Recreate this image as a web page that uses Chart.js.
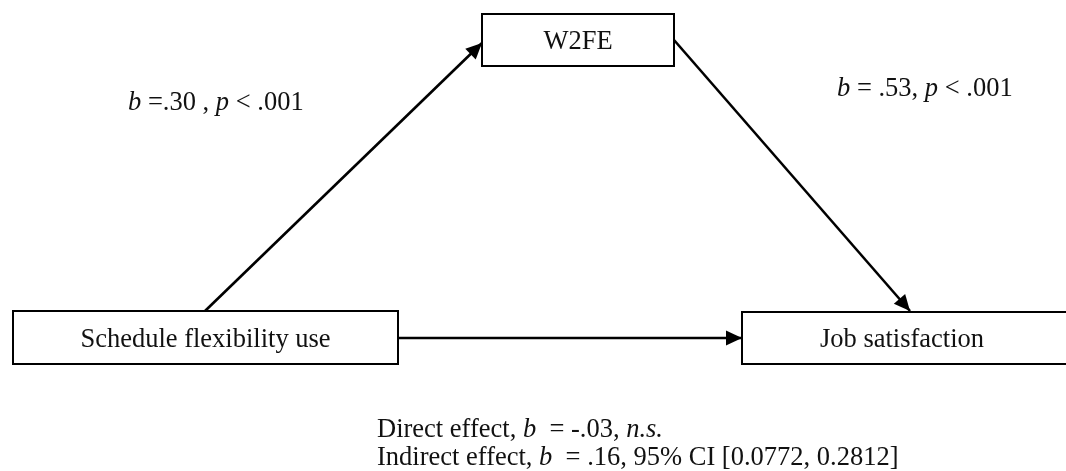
<!DOCTYPE html>
<html>
<head>
<meta charset="utf-8">
<script src="https://cdn.jsdelivr.net/npm/chart.js@4"></script>
<style>
  html, body { margin: 0; padding: 0; background: #fff; }
  #wrap { width: 1066px; height: 471px; }
</style>
</head>
<body>
<div id="wrap"><canvas id="diagram" width="1066" height="471"></canvas></div>
<script>
// Mediation model: schedule flexibility -> W2FE -> job satisfaction

// --- values ---
const nodeLabels = ['Schedule flexibility use', 'W2FE', 'Job satisfaction'];
const pathB = ['.30', '.53', '-.03', '.16'];   // a, b, direct c', indirect ab
const pathP = ['.001', '.001'];
const indirectCI = ['0.0772', '0.2812'];

// --- layout (canvas units, y down) ---
const boxes = [
    { x0: 13, y0: 311, x1: 398, y1: 364 },   // Schedule flexibility use
    { x0: 482, y0: 14, x1: 674, y1: 66 },    // W2FE
    { x0: 742, y0: 312, x1: 1072, y1: 364 }  // Job satisfaction
];
const arrowA = [{ x: 205, y: 311 }, { x: 482, y: 43 }];
const arrowB = [{ x: 674, y: 40 }, { x: 910, y: 311 }];
const arrowC = [{ x: 398, y: 338 }, { x: 742, y: 338 }];

const FONT = '"Liberation Serif", "Times New Roman", serif';
const SIZE = 26.5;
const INK = '#111';

function setFont(ctx, italic) {
    ctx.font = (italic ? 'italic ' : '') + SIZE + 'px ' + FONT;
}

function richWidth(ctx, segs) {
    let w = 0;
    segs.forEach(s => { setFont(ctx, s[1]); w += ctx.measureText(s[0]).width; });
    return w;
}

function drawRich(ctx, x, y, segs) {
    let cx = x;
    segs.forEach(s => {
        setFont(ctx, s[1]);
        ctx.fillText(s[0], cx, y);
        cx += ctx.measureText(s[0]).width;
    });
}

const diagramPlugin = {
    id: 'diagram',
    beforeDatasetsDraw(chart) {
        const ctx = chart.ctx, sx = chart.scales.x, sy = chart.scales.y;
        ctx.save();
        boxes.forEach(b => {
            const x0 = sx.getPixelForValue(b.x0), x1 = sx.getPixelForValue(b.x1);
            const y0 = sy.getPixelForValue(b.y0), y1 = sy.getPixelForValue(b.y1);
            ctx.fillStyle = '#fff';
            ctx.fillRect(x0, y0, x1 - x0, y1 - y0);
            ctx.lineWidth = 2;
            ctx.strokeStyle = '#000';
            ctx.strokeRect(x0, y0, x1 - x0, y1 - y0);
        });
        ctx.restore();
    },
    afterDatasetsDraw(chart) {
        const ctx = chart.ctx, sx = chart.scales.x, sy = chart.scales.y;
        ctx.save();
        // arrow heads at the end of every path
        chart.data.datasets.forEach(ds => {
            const n = ds.data.length;
            const p0 = ds.data[n - 2], p1 = ds.data[n - 1];
            const ax = sx.getPixelForValue(p0.x), ay = sy.getPixelForValue(p0.y);
            const bx = sx.getPixelForValue(p1.x), by = sy.getPixelForValue(p1.y);
            const ang = Math.atan2(by - ay, bx - ax);
            const len = 16, half = 7.5;
            ctx.beginPath();
            ctx.moveTo(bx, by);
            ctx.lineTo(bx - len * Math.cos(ang) + half * Math.sin(ang), by - len * Math.sin(ang) - half * Math.cos(ang));
            ctx.lineTo(bx - len * Math.cos(ang) - half * Math.sin(ang), by - len * Math.sin(ang) + half * Math.cos(ang));
            ctx.closePath();
            ctx.fillStyle = '#000';
            ctx.fill();
        });

        // node labels
        ctx.fillStyle = INK;
        ctx.textBaseline = 'alphabetic';
        boxes.forEach((b, i) => {
            const segs = [[nodeLabels[i], false]];
            const w = richWidth(ctx, segs);
            const right = i === 2 ? 1062 : b.x1;
            const cx = (sx.getPixelForValue(b.x0) + sx.getPixelForValue(right)) / 2;
            const cy = (sy.getPixelForValue(b.y0) + sy.getPixelForValue(b.y1)) / 2;
            drawRich(ctx, cx - w / 2, cy + 9, segs);
        });

        // path coefficients
        drawRich(ctx, sx.getPixelForValue(128), sy.getPixelForValue(110),
            [['b', true], [' =' + pathB[0] + ' , ', false], ['p', true], [' < ' + pathP[0], false]]);
        drawRich(ctx, sx.getPixelForValue(837), sy.getPixelForValue(96),
            [['b', true], [' = ' + pathB[1] + ', ', false], ['p', true], [' < ' + pathP[1], false]]);

        // effects summary
        drawRich(ctx, sx.getPixelForValue(377), sy.getPixelForValue(437),
            [['Direct effect, ', false], ['b', true], ['  = ' + pathB[2] + ', ', false], ['n.s.', true]]);
        drawRich(ctx, sx.getPixelForValue(377), sy.getPixelForValue(465),
            [['Indirect effect, ', false], ['b', true],
             ['  = ' + pathB[3] + ', 95% CI [' + indirectCI[0] + ', ' + indirectCI[1] + ']', false]]);
        ctx.restore();
    }
};

function pathDataset(points) {
    return {
        data: points,
        showLine: true,
        borderColor: '#000',
        borderWidth: 2.6,
        pointRadius: 0,
        pointHoverRadius: 0,
        fill: false
    };
}

new Chart(document.getElementById('diagram'), {
    type: 'scatter',
    data: {
        datasets: [pathDataset(arrowA), pathDataset(arrowB), pathDataset(arrowC)]
    },
    options: {
        responsive: false,
        animation: false,
        layout: { padding: 0 },
        plugins: {
            legend: { display: false },
            tooltip: { enabled: false }
        },
        scales: {
            x: { type: 'linear', min: 0, max: 1066, display: false },
            y: { type: 'linear', min: 0, max: 471, reverse: true, display: false }
        }
    },
    plugins: [diagramPlugin]
});
</script>
</body>
</html>
